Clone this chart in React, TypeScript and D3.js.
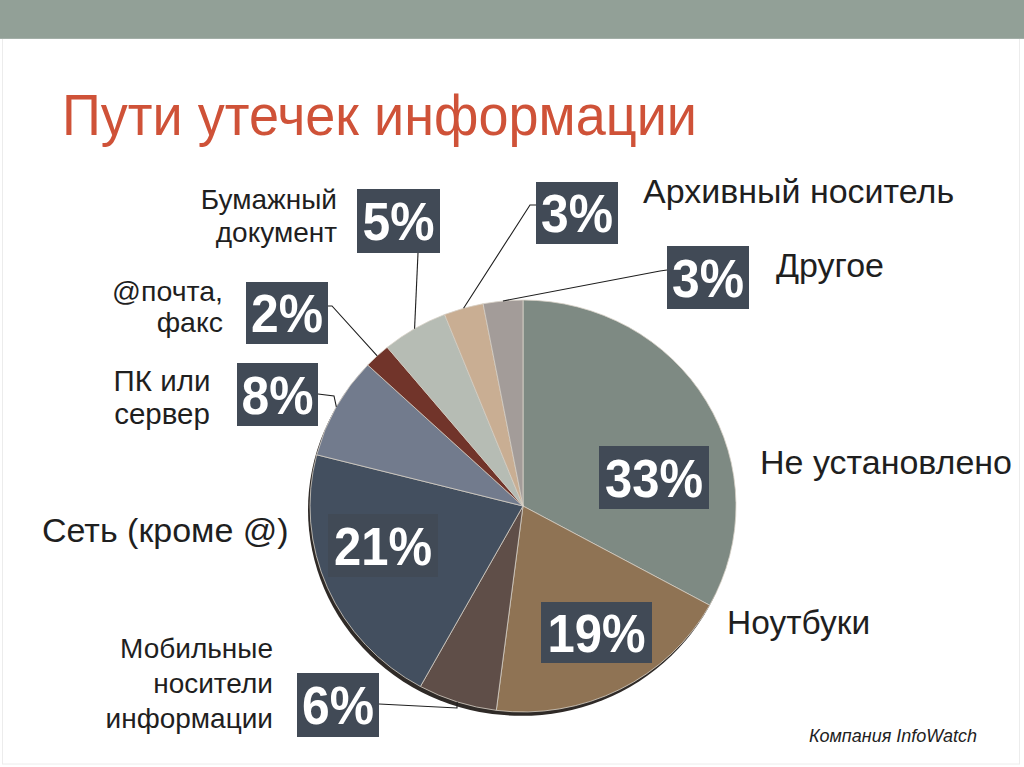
import React from "react";
import * as d3 from "d3";

// ---- data ----
const categories = [
  "Не установлено",
  "Ноутбуки",
  "Мобильные носители информации",
  "Сеть (кроме @)",
  "ПК или сервер",
  "@почта, факс",
  "Бумажный документ",
  "Архивный носитель",
  "Другое",
];
const values = [33, 19, 6, 21, 8, 2, 5, 3, 3];
const nameLines = [
  ["Не установлено"],
  ["Ноутбуки"],
  ["Мобильные", "носители", "информации"],
  ["Сеть (кроме @)"],
  ["ПК или", "сервер"],
  ["@почта,", "факс"],
  ["Бумажный", "документ"],
  ["Архивный носитель"],
  ["Другое"],
];
const sliceColors = [
  "#7E8A83",
  "#8F7354",
  "#5F4E48",
  "#434F5F",
  "#727B8D",
  "#71342A",
  "#B6BCB4",
  "#C9AE93",
  "#A39C99",
];
const title = "Пути утечек информации";
const source = "Компания InfoWatch";

// ---- layout (positions of boxes / names / leaders) ----
type Layout = {
  box: [number, number, number, number];
  tw: number;
  leader?: [number, number][];
  name: { x: number; y: number; anchor: string; size: number; lh: number };
};
const layout: Layout[] = [
  { box: [599, 446, 110, 63], tw: 98, name: { x: 760, y: 474, anchor: "start", size: 34, lh: 0 } },
  { box: [541, 602, 111, 61], tw: 98, name: { x: 727, y: 634, anchor: "start", size: 33.5, lh: 0 } },
  { box: [297, 673, 82, 64], tw: 72, leader: [[379, 704], [457, 708]], name: { x: 273, y: 658, anchor: "end", size: 28, lh: 35 } },
  { box: [328, 514, 110, 63], tw: 98, name: { x: 42, y: 542, anchor: "start", size: 34, lh: 0 } },
  { box: [237, 363, 81, 63], tw: 72, leader: [[318, 394], [334, 396]], name: { x: 162, y: 391, anchor: "middle", size: 29.5, lh: 33 } },
  { box: [246, 282, 82, 62], tw: 72, leader: [[328, 306], [332, 306]], name: { x: 223, y: 301, anchor: "end", size: 28.5, lh: 31 } },
  { box: [357, 189, 83, 64], tw: 72, leader: [[418, 253]], name: { x: 337, y: 209, anchor: "end", size: 28, lh: 33 } },
  { box: [536, 182, 82, 62], tw: 72, leader: [[536, 205], [530, 205]], name: { x: 643, y: 203, anchor: "start", size: 34, lh: 0 } },
  { box: [667, 246, 82, 63], tw: 72, leader: [[667, 270], [660, 271]], name: { x: 776, y: 277, anchor: "start", size: 34, lh: 0 } },
];

const W = 1024;
const H = 767;
const cx = 523;
const cy = 506;
const R = 213;
const yScale = 0.967;
const FONT = "'Liberation Sans', Arial, Helvetica, sans-serif";

export default function App() {
  const pie = d3.pie<number>().sort(null).value((d) => d);
  const arcs = pie(values);
  const arc = d3.arc<d3.PieArcDatum<number>>().innerRadius(0).outerRadius(R);
  const edge = d3.arc<d3.PieArcDatum<number>>().innerRadius(R).outerRadius(R);
  const full = d3.arc()({ innerRadius: 0, outerRadius: R, startAngle: 0, endAngle: 2 * Math.PI } as any) || "";

  const edgePoint = (i: number): [number, number] => {
    const mid = (arcs[i].startAngle + arcs[i].endAngle) / 2;
    const a = { ...arcs[i], startAngle: mid, endAngle: mid };
    const [x, y] = edge.centroid(a as any);
    return [cx + x, cy + y * yScale];
  };

  const line = d3.line();

  return (
    <svg
      width={W}
      height={H}
      viewBox={`0 0 ${W} ${H}`}
      style={{ position: "absolute", left: 0, top: 0, background: "#fff" }}
      fontFamily={FONT}
    >
      <rect x={0} y={0} width={W} height={H} fill="#fff" />
      {/* slide frame */}
      <rect x={2.5} y={0} width={1017} height={764} fill="none" stroke="#ececec" strokeWidth={1} />
      <rect x={0} y={0} width={W} height={39} fill="#92A097" />
      <rect x={0} y={38} width={W} height={1} fill="#a3afa8" />

      <text
        x={62}
        y={135}
        fontSize={57}
        fill="#CF5238"
        textLength={635}
        lengthAdjust="spacingAndGlyphs"
      >
        {title}
      </text>

      {/* pie */}
      <g transform={`translate(${cx},${cy}) scale(1,${yScale})`}>
        <path d={full} transform="translate(-2,4)" fill="#2f2a27" />
        {arcs.map((a, i) => (
          <path
            key={categories[i]}
            d={arc(a) || ""}
            fill={sliceColors[i]}
            stroke="#d9d2c8"
            strokeWidth={0.8}
            strokeLinejoin="round"
          />
        ))}
      </g>

      {/* leader lines */}
      {layout.map((l, i) =>
        l.leader ? (
          <path
            key={"ld" + i}
            d={line([...l.leader, edgePoint(i)]) || ""}
            fill="none"
            stroke="#1e1e1e"
            strokeWidth={1.1}
          />
        ) : null
      )}

      {/* value boxes */}
      {layout.map((l, i) => {
        const [x, y, w, h] = l.box;
        return (
          <g key={"bx" + i}>
            <rect x={x} y={y} width={w} height={h} fill="#414A56" />
            <text
              x={x + w / 2}
              y={y + h / 2 + 19}
              textAnchor="middle"
              fill="#fff"
              fontWeight="bold"
              fontSize={53}
              textLength={l.tw}
              lengthAdjust="spacingAndGlyphs"
            >
              {values[i] + "%"}
            </text>
          </g>
        );
      })}

      {/* category names */}
      {layout.map((l, i) => (
        <text
          key={"nm" + i}
          x={l.name.x}
          y={l.name.y}
          textAnchor={l.name.anchor as any}
          fontSize={l.name.size}
          fill="#1f1f1f"
        >
          {nameLines[i].map((s, j) => (
            <tspan key={j} x={l.name.x} dy={j === 0 ? 0 : l.name.lh}>
              {s}
            </tspan>
          ))}
        </text>
      ))}

      <text x={977} y={742} textAnchor="end" fontSize={18} fontStyle="italic" fill="#222">
        {source}
      </text>
    </svg>
  );
}
